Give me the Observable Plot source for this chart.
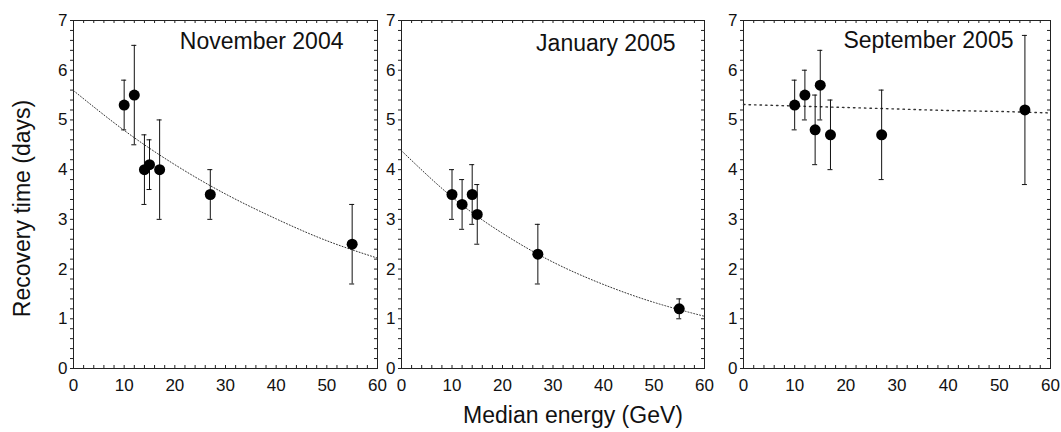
<!DOCTYPE html>
<html>
<head>
<meta charset="utf-8">
<script src="https://cdn.jsdelivr.net/npm/d3@7"></script>
<script src="https://cdn.jsdelivr.net/npm/@observablehq/plot@0.6"></script>
<style>
  html, body { margin: 0; padding: 0; background: #fff; }
  #chart { position: relative; width: 1061px; height: 432px; overflow: hidden; }
  #chart svg { position: absolute; left: 0; top: 0; }
</style>
</head>
<body>
<div id="chart"></div>
<script>
// ---- data ----
const panelTitles = ["November 2004", "January 2005", "September 2005"];

const energy1 = [10, 12, 14, 15, 17, 27, 55];
const time1   = [5.3, 5.5, 4.0, 4.1, 4.0, 3.5, 2.5];
const low1    = [4.8, 4.5, 3.3, 3.6, 3.0, 3.0, 1.7];
const high1   = [5.8, 6.5, 4.7, 4.6, 5.0, 4.0, 3.3];

const energy2 = [10, 12, 14, 15, 27, 55];
const time2   = [3.5, 3.3, 3.5, 3.1, 2.3, 1.2];
const low2    = [3.0, 2.8, 2.9, 2.5, 1.7, 1.0];
const high2   = [4.0, 3.8, 4.1, 3.7, 2.9, 1.4];

const energy3 = [10, 12, 14, 15, 17, 27, 55];
const time3   = [5.3, 5.5, 4.8, 5.7, 4.7, 4.7, 5.2];
const low3    = [4.8, 5.0, 4.1, 5.0, 4.0, 3.8, 3.7];
const high3   = [5.8, 6.0, 5.5, 6.4, 5.4, 5.6, 6.7];

// fitted curves
const fitEnergy = [0, 10, 20, 30, 40, 50, 60];
const fit1 = [5.59, 4.79, 4.10, 3.51, 3.01, 2.57, 2.22];
const fit2 = [4.38, 3.45, 2.72, 2.14, 1.69, 1.33, 1.05];
const fit3 = [5.31, 5.28, 5.25, 5.22, 5.19, 5.17, 5.14];

// axis ticks
const xMajor = [0, 10, 20, 30, 40, 50, 60];
const xMinor = d3.range(0, 31).map(i => i * 2);
const yTicks = d3.range(0, 36).map(i => i / 5);

const xLabel = "Median energy (GeV)";
const yLabel = "Recovery time (days)";

// ---- layout / style ----
const W = 1061, H = 432, TOP = 20, BOTTOM = 368;
const FONT = "'Liberation Sans', Arial, Helvetica, sans-serif";

const panels = [
  {title: panelTitles[0], ex: energy1, t: time1, lo: low1, hi: high1, fit: fit1,
   left: 73, right: 377, titleDx: -34, titleDy: 28, dash: "1,2", dashW: 1},
  {title: panelTitles[1], ex: energy2, t: time2, lo: low2, hi: high2, fit: fit2,
   left: 401, right: 704, titleDx: -29, titleDy: 30, dash: "1,2", dashW: 1},
  {title: panelTitles[2], ex: energy3, t: time3, lo: low3, hi: high3, fit: fit3,
   left: 743, right: 1050, titleDx: -37, titleDy: 27, dash: "1.5,4", dashW: 1.4}
];

const chart = document.getElementById("chart");

panels.forEach((p, k) => {
  const rows = p.ex.map((e, i) => ({x: e, y: p.t[i], lo: p.lo[i], hi: p.hi[i]}));
  const fitRows = fitEnergy.map((e, i) => ({x: e, y: p.fit[i]}));
  const fw = p.right - p.left, fh = BOTTOM - TOP;
  const marks = [
    Plot.frame({stroke: "#222"}),
    Plot.axisY(yTicks, {anchor: "left", tickSize: 3, tickPadding: 3, label: null,
      tickFormat: d => Number.isInteger(d) ? String(d) : "", fontSize: 17, fill: "#111", stroke: "#222"}),
    Plot.axisX(xMajor, {anchor: "bottom", tickSize: 0, tickPadding: 10, label: null, fontSize: 17, fill: "#111"}),
    Plot.gridX(xMinor, {stroke: "#222", strokeOpacity: 1, insetTop: fh - 3}),
    Plot.gridX(xMinor, {stroke: "#222", strokeOpacity: 1, insetBottom: fh - 3}),
    Plot.gridY(yTicks, {stroke: "#222", strokeOpacity: 1, insetLeft: fw - 3}),
    Plot.line(fitRows, {x: "x", y: "y", curve: "natural", stroke: "#333",
      strokeDasharray: p.dash, strokeWidth: p.dashW}),
    Plot.ruleX(rows, {x: "x", y1: "lo", y2: "hi", stroke: "#111"}),
    Plot.ruleY(rows, {y: "lo", x1: "x", x2: "x", insetLeft: -2.5, insetRight: -2.5, stroke: "#111"}),
    Plot.ruleY(rows, {y: "hi", x1: "x", x2: "x", insetLeft: -2.5, insetRight: -2.5, stroke: "#111"}),
    Plot.dot(rows, {x: "x", y: "y", r: 5.5, fill: "#000", stroke: null}),
    Plot.text([p.title], {text: d => d, frameAnchor: "top-right", textAnchor: "end", lineAnchor: "bottom",
      dx: p.titleDx, dy: p.titleDy, fontSize: 23, fill: "#111"})
  ];
  if (k === 0) {
    marks.push(Plot.text([yLabel], {text: d => d, frameAnchor: "left", textAnchor: "middle", dx: -51, dy: 14,
      rotate: -90, fontSize: 23, fill: "#111"}));
  }
  if (k === 1) {
    marks.push(Plot.text([xLabel], {text: d => d, frameAnchor: "bottom", textAnchor: "middle", dx: 20, dy: 54,
      fontSize: 23, fill: "#111"}));
  }
  const svg = Plot.plot({
    width: W, height: H,
    marginLeft: p.left, marginRight: W - p.right, marginTop: TOP, marginBottom: H - BOTTOM,
    x: {domain: [0, 60]},
    y: {domain: [0, 7]},
    style: {background: "transparent", overflow: "visible", fontFamily: FONT, fontSize: "16px", color: "#111"},
    marks
  });
  chart.appendChild(svg);
});
</script>
</body>
</html>
